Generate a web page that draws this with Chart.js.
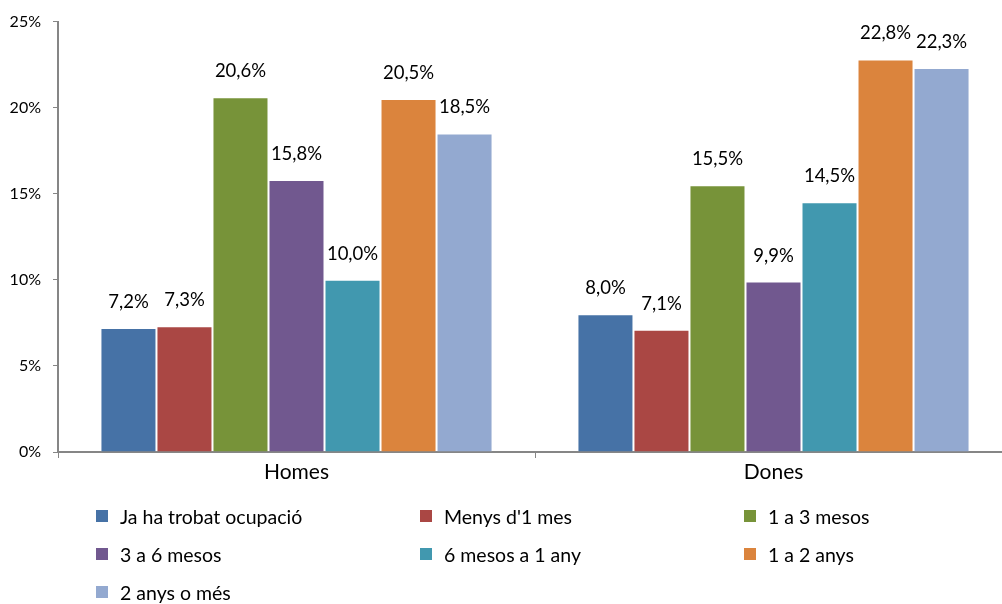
<!DOCTYPE html>
<html>
<head>
<meta charset="utf-8">
<script src="https://cdn.jsdelivr.net/npm/chart.js@4"></script>
<style>
  html, body { margin: 0; padding: 0; background: #fff; overflow: hidden; }
  #wrap { position: relative; width: 1002px; height: 604px; overflow: hidden; }
  #legend {
    position: absolute; left: 96px; top: 497px;
    display: grid; grid-template-columns: 324px 324px 324px;
    grid-auto-rows: 38px;
    font-family: Lato, 'Open Sans', sans-serif; font-size: 19.5px; color: #000;
  }
  .item { display: flex; align-items: center; }
  .box { width: 12px; height: 12px; margin-right: 12px; flex: none; }
</style>
</head>
<body>
<div id="wrap">
  <canvas id="chart" width="1012" height="604"></canvas>
  <div id="legend"></div>
</div>
<script>
/* categories, series and values */
const categories = ['Homes', 'Dones'];
const seriesNames = ['Ja ha trobat ocupació', "Menys d'1 mes", '1 a 3 mesos', '3 a 6 mesos',
                     '6 mesos a 1 any', '1 a 2 anys', '2 anys o més'];
const seriesColors = ['#4672A6', '#AA4744', '#779339', '#71588F', '#4198AF', '#DB843D', '#93A9D0'];
const homes = [7.2, 7.3, 20.6, 15.8, 10.0, 20.5, 18.5];
const dones = [8.0, 7.1, 15.5, 9.9, 14.5, 22.8, 22.3];
const yTicks = [0, 5, 10, 15, 20, 25];

const FONT = "Lato, 'Open Sans', sans-serif";

// etiquetes de valor damunt de cada barra
const valueLabels = {
  id: 'valueLabels',
  afterDatasetsDraw(chart) {
    const ctx = chart.ctx;
    ctx.save();
    ctx.font = '18.5px ' + FONT;
    ctx.fillStyle = '#000';
    ctx.textAlign = 'center';
    ctx.textBaseline = 'middle';
    chart.data.datasets.forEach((ds, i) => {
      chart.getDatasetMeta(i).data.forEach((bar, j) => {
        const txt = ds.data[j].toFixed(1).replace('.', ',') + '%';
        ctx.fillText(txt, bar.x, bar.y - 26);
      });
    });
    ctx.restore();
  },
};

const datasets = seriesNames.map((name, i) => ({
  label: name,
  data: [homes[i], dones[i]],
  backgroundColor: seriesColors[i],
  borderColor: 'rgba(255,255,255,0.3)',
  borderWidth: 1,
  categoryPercentage: 0.822,
  barPercentage: 1.0,
}));

new Chart(document.getElementById('chart'), {
  type: 'bar',
  data: { labels: categories, datasets },
  plugins: [valueLabels],
  options: {
    responsive: false, animation: false,
    layout: { padding: { top: 20, right: 0, bottom: 112, left: 0 } },
    plugins: { legend: { display: false }, tooltip: { enabled: false } },
    scales: {
      x: {
        offset: true,
        grid: { offset: true, drawOnChartArea: false, tickLength: 6, color: '#868686' },
        border: { color: '#868686', width: 2 },
        ticks: { font: { family: FONT, size: 21 }, color: '#000', padding: 2 },
        afterFit: s => { s.height = 40; },
      },
      y: {
        min: 0, max: 25,
        afterBuildTicks: s => { s.ticks = yTicks.map(v => ({ value: v })); },
        grid: { drawOnChartArea: false, tickLength: 5, color: '#868686' },
        border: { color: '#868686', width: 2 },
        ticks: { font: { family: FONT, size: 16 }, color: '#000', padding: 12, callback: v => v + '%' },
        afterFit: s => { s.width = 58; },
      },
    },
  },
});

// llegenda en tres columnes
const legend = document.getElementById('legend');
seriesNames.forEach((name, i) => {
  const it = document.createElement('div');
  it.className = 'item';
  const box = document.createElement('span');
  box.className = 'box';
  box.style.background = seriesColors[i];
  const t = document.createElement('span');
  t.textContent = name;
  it.appendChild(box);
  it.appendChild(t);
  legend.appendChild(it);
});
</script>
</body>
</html>
